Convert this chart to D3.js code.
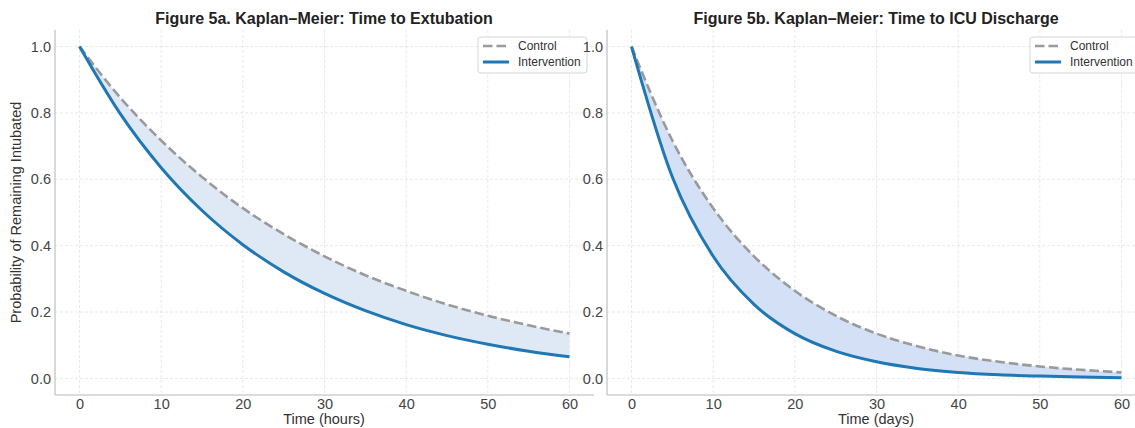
<!DOCTYPE html>
<html>
<head>
<meta charset="utf-8">
<script src="https://cdn.jsdelivr.net/npm/d3@7"></script>
<style>
  body { margin: 0; background: #fff; }
  svg { display: block; font-family: 'Liberation Sans', Arial, sans-serif; }
  .title { font-weight: bold; font-size: 16px; fill: #222; }
  .label { font-size: 14.5px; fill: #333; }
  .tick text { font-size: 14.5px; fill: #444; }
  .legend text { font-size: 12px; fill: #333; }
</style>
</head>
<body>
<div id="chart"></div>
<script>
  // time points shared by both panels
  const times = [0, 5, 10, 15, 20, 25, 30, 35, 40, 45, 50, 55, 60];

  // 5a: probability of remaining intubated (hours)
  const controlHours = [1.0, 0.846, 0.717, 0.607, 0.513, 0.435, 0.368, 0.311, 0.264, 0.223, 0.189, 0.160, 0.135];
  const interventionHours = [1.0, 0.797, 0.635, 0.506, 0.403, 0.321, 0.256, 0.204, 0.162, 0.129, 0.103, 0.082, 0.065];

  // 5b: probability of remaining in ICU (days)
  const controlDays = [1.0, 0.717, 0.513, 0.368, 0.264, 0.189, 0.135, 0.097, 0.069, 0.050, 0.036, 0.026, 0.018];
  const interventionDays = [1.0, 0.607, 0.368, 0.223, 0.135, 0.082, 0.050, 0.030, 0.018, 0.011, 0.007, 0.004, 0.002];

  const xTicks = [0, 10, 20, 30, 40, 50, 60];
  const yTicks = [0.0, 0.2, 0.4, 0.6, 0.8, 1.0];
  const legendLabels = ['Control', 'Intervention'];

  const width = 1135;
  const height = 428;
  const plotTop = 30, plotBottom = 395;

  const panels = [
    {
      title: 'Figure 5a. Kaplan\u2013Meier: Time to Extubation',
      xlabel: 'Time (hours)',
      ylabel: 'Probability of Remaining Intubated',
      left: 55, right: 594, center: 324,
      control: controlHours, intervention: interventionHours,
      fill: '#dfe9f5',
    },
    {
      title: 'Figure 5b. Kaplan\u2013Meier: Time to ICU Discharge',
      xlabel: 'Time (days)',
      ylabel: null,
      left: 607, right: 1146, center: 876,
      control: controlDays, intervention: interventionDays,
      fill: '#d4e0f5',
    },
  ];

  const svg = d3.select('#chart')
    .append('svg')
    .attr('width', width)
    .attr('height', height);

  panels.forEach((p) => {
    let x = d3.scaleLinear().domain([-3, 63]).range([p.left, p.right]);
    let y = d3.scaleLinear().domain([-0.05, 1.05]).range([plotBottom, plotTop]);
    let g = svg.append('g').attr('class', 'panel');

    // grid
    g.selectAll('line.xgrid')
      .data(xTicks)
      .enter()
      .append('line')
      .attr('x1', (d) => x(d)).attr('x2', (d) => x(d))
      .attr('y1', plotTop).attr('y2', plotBottom)
      .attr('stroke', '#e3e3e3')
      .attr('stroke-width', 0.8)
      .attr('stroke-dasharray', '3,2');
    g.selectAll('line.ygrid')
      .data(yTicks)
      .enter()
      .append('line')
      .attr('x1', p.left).attr('x2', p.right)
      .attr('y1', (d) => y(d)).attr('y2', (d) => y(d))
      .attr('stroke', '#e3e3e3')
      .attr('stroke-width', 0.8)
      .attr('stroke-dasharray', '3,2');

    // axes, no tick marks, only left/bottom spines
    let xAxis = d3.axisBottom(x).tickValues(xTicks).tickSize(0).tickPadding(4).tickFormat(d3.format('d'));
    let yAxis = d3.axisLeft(y).tickValues(yTicks).tickSize(0).tickPadding(4).tickFormat(d3.format('.1f'));
    let gx = g.append('g').attr('transform', `translate(0,${plotBottom})`).call(xAxis);
    let gy = g.append('g').attr('transform', `translate(${p.left},0)`).call(yAxis);
    gx.select('.domain').remove();
    gy.select('.domain').remove();
    g.append('line')
      .attr('x1', p.left).attr('x2', p.right)
      .attr('y1', plotBottom).attr('y2', plotBottom)
      .attr('stroke', '#cfcfcf').attr('stroke-width', 1.6);
    g.append('line')
      .attr('x1', p.left).attr('x2', p.left)
      .attr('y1', plotTop).attr('y2', plotBottom)
      .attr('stroke', '#cfcfcf').attr('stroke-width', 1.6);

    let rows = times.map((t, j) => ({ t: t, c: p.control[j], v: p.intervention[j] }));

    // shaded gap between the curves
    let area = d3.area()
      .curve(d3.curveMonotoneX)
      .x((d) => x(d.t))
      .y0((d) => y(d.v))
      .y1((d) => y(d.c));
    g.append('path')
      .datum(rows)
      .attr('d', area)
      .attr('fill', p.fill);

    let ctrlLine = d3.line().curve(d3.curveMonotoneX).x((d) => x(d.t)).y((d) => y(d.c));
    let intvLine = d3.line().curve(d3.curveMonotoneX).x((d) => x(d.t)).y((d) => y(d.v));
    g.append('path')
      .datum(rows)
      .attr('d', ctrlLine)
      .attr('fill', 'none')
      .attr('stroke', '#9a9a9a')
      .attr('stroke-width', 2.6)
      .attr('stroke-dasharray', '9.5,4');
    g.append('path')
      .datum(rows)
      .attr('d', intvLine)
      .attr('fill', 'none')
      .attr('stroke', '#1f77b4')
      .attr('stroke-width', 3);

    // titles and labels
    g.append('text')
      .attr('class', 'title')
      .attr('x', p.center)
      .attr('y', 24)
      .attr('text-anchor', 'middle')
      .text(p.title);
    g.append('text')
      .attr('class', 'label')
      .attr('x', p.center)
      .attr('y', 424)
      .attr('text-anchor', 'middle')
      .text(p.xlabel);
    if (p.ylabel) {
      g.append('text')
        .attr('class', 'label')
        .attr('transform', `translate(21,${(plotTop + plotBottom) / 2}) rotate(-90)`)
        .attr('text-anchor', 'middle')
        .text(p.ylabel);
    }

    // legend
    let lg = g.append('g')
      .attr('class', 'legend')
      .attr('transform', `translate(${p.right - 116},37)`);
    lg.append('rect')
      .attr('width', 109).attr('height', 36)
      .attr('rx', 3)
      .attr('fill', '#fff').attr('fill-opacity', 0.85)
      .attr('stroke', '#d5d5d5');
    legendLabels.forEach((name, k) => {
      let ly = 9 + k * 16;
      lg.append('line')
        .attr('x1', 5).attr('x2', 31)
        .attr('y1', ly).attr('y2', ly)
        .attr('stroke', k === 0 ? '#9a9a9a' : '#1f77b4')
        .attr('stroke-width', k === 0 ? 2.6 : 3)
        .attr('stroke-dasharray', k === 0 ? '9.5,4' : null);
      lg.append('text')
        .attr('x', 40)
        .attr('y', ly + 4)
        .text(name);
    });
  });
</script>
</body>
</html>
